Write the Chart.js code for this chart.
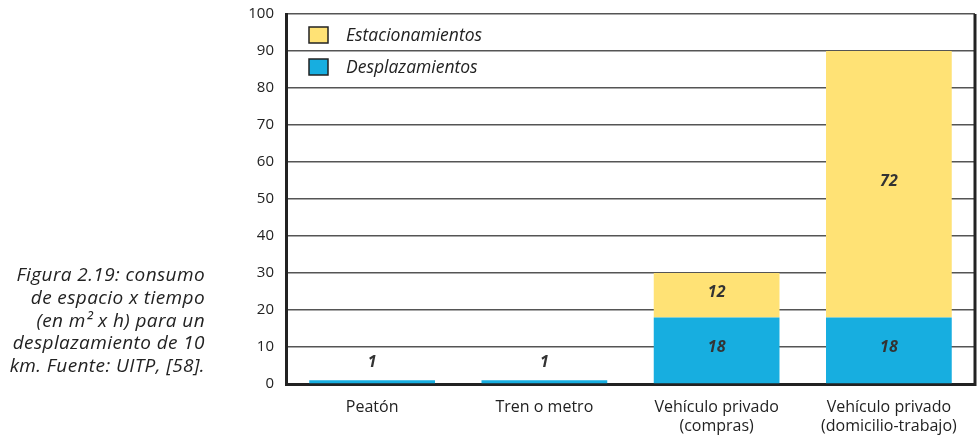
<!DOCTYPE html>
<html>
<head>
<meta charset="utf-8">
<script src="https://cdn.jsdelivr.net/npm/chart.js@4.4.0/dist/chart.umd.min.js"></script>
<style>
  html, body { margin: 0; padding: 0; background: #fff; }
  #wrap { position: relative; width: 980px; height: 441px; }
  #caption {
    position: absolute; right: 775px; top: 263px; width: 240px;
    font: italic 19px "Open Sans", sans-serif; line-height: 22.8px;
    letter-spacing: 0.4px;
    color: #222; text-align: right; white-space: nowrap;
  }
</style>
</head>
<body>
<div id="wrap">
  <canvas id="chart" width="980" height="441"></canvas>
  <div id="caption">Figura 2.19: consumo<br>de espacio x tiempo<br>(en m² x h) para un<br>desplazamiento de 10<br>km. Fuente: UITP, [58].</div>
</div>
<script>
// Categories and stacked values (m² x h)
var categories = [["Peatón"], ["Tren o metro"], ["Vehículo privado", "(compras)"], ["Vehículo privado", "(domicilio-trabajo)"]];
var desplazamientos = [1, 1, 18, 18];
var estacionamientos = [0, 0, 12, 72];
var yTicks = [0, 10, 20, 30, 40, 50, 60, 70, 80, 90, 100];

var blue = "#17aee0";
var yellow = "#ffe275";

// Legend inside the plot area, top-left
Chart.register({
    id: 'innerLegend',
    afterDraw: function(chart) {
        const ctx = chart.ctx;
        const area = chart.chartArea;
        const items = [chart.data.datasets[1], chart.data.datasets[0]];
        ctx.save();
        ctx.font = 'italic 17.5px "Open Sans", sans-serif';
        ctx.textBaseline = 'middle';
        items.forEach((ds, i) => {
            const y = area.top + 21 + i * 32;
            ctx.fillStyle = ds.backgroundColor;
            ctx.fillRect(area.left + 23, y - 8, 19, 16);
            ctx.strokeStyle = '#222';
            ctx.lineWidth = 1.5;
            ctx.strokeRect(area.left + 23, y - 8, 19, 16);
            ctx.fillStyle = '#222';
            ctx.fillText(ds.label, area.left + 60, y + 1);
        });
        // right frame line
        ctx.strokeStyle = '#222';
        ctx.lineWidth = 3;
        ctx.beginPath();
        ctx.moveTo(area.right, area.top);
        ctx.lineTo(area.right, area.bottom + 2);
        ctx.stroke();
        ctx.restore();
    }
});

// Value labels on segments
Chart.register({
    id: 'valueLabels',
    afterDatasetsDraw: function(chart) {
        const ctx = chart.ctx;
        ctx.save();
        ctx.font = 'italic bold 16px "Open Sans", sans-serif';
        ctx.fillStyle = '#333';
        ctx.textAlign = 'center';
        ctx.textBaseline = 'middle';
        chart.data.datasets.forEach((ds, i) => {
            chart.getDatasetMeta(i).data.forEach((bar, index) => {
                const v = ds.data[index];
                if (!v) return;
                const h = bar.base - bar.y;
                const y = h < 20 ? bar.y - 18 : (bar.y + bar.base) / 2 - 3;
                ctx.fillText(v, bar.x, y);
            });
        });
        ctx.restore();
    }
});

var ctx = document.getElementById("chart").getContext("2d");
new Chart(ctx, {
    type: "bar",
    data: {
        labels: categories,
        datasets: [{
            label: "Desplazamientos",
            data: desplazamientos,
            backgroundColor: blue,
            borderWidth: 0
        }, {
            label: "Estacionamientos",
            data: estacionamientos,
            backgroundColor: yellow,
            borderWidth: 0
        }]
    },
    options: {
        responsive: false,
        animation: false,
        layout: { padding: { top: 0, right: 5, left: 0, bottom: 0 } },
        datasets: { bar: { categoryPercentage: 1, barPercentage: 0.73 } },
        plugins: {
            legend: { display: false },
            tooltip: { enabled: false }
        },
        scales: {
            x: {
                stacked: true,
                afterFit: function(scale) { scale.height = 57; },
                grid: { display: false, drawTicks: false },
                border: { display: true, color: '#222', width: 3 },
                ticks: {
                    color: '#222',
                    padding: 14,
                    font: { family: '"Open Sans", sans-serif', size: 16 }
                }
            },
            y: {
                stacked: true,
                min: 0,
                max: 100,
                afterFit: function(scale) {
                    scale.width = 286;
                    scale.paddingTop = 14;
                },
                afterBuildTicks: function(scale) {
                    scale.ticks = yTicks.map(v => ({ value: v }));
                },
                grid: { color: '#555', lineWidth: 1.5, drawTicks: false },
                border: { display: true, color: '#222', width: 3 },
                ticks: {
                    color: '#222',
                    padding: 12,
                    font: { family: '"Open Sans", sans-serif', size: 15 }
                }
            }
        }
    }
});
</script>
</body>
</html>
